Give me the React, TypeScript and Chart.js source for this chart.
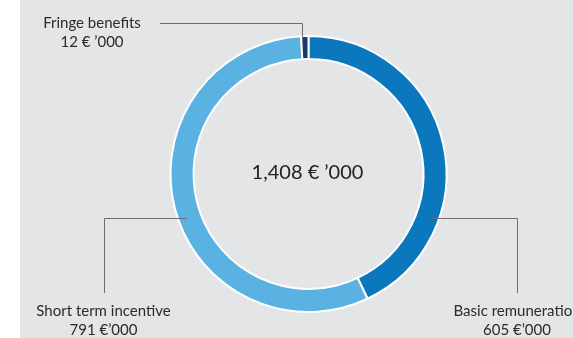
import { useEffect, useRef } from "react";
import { Chart, registerables } from "chart.js";

Chart.register(...registerables);

// ---- data ----
const categories = ["Basic remuneration", "Short term incentive", "Fringe benefits"];
const values = [605, 791, 12];
const unitSuffix = "€’000";
const valueLabels = ["605 €’000", "791 €’000", "12 € ’000"];
const colors = ["#0b78be", "#59b2e2", "#173a6a"];

const total = values.reduce((a, b) => a + b, 0);
const centerLabel = `${total.toLocaleString("en-US")} € ’000`;

const FONT = "Lato, 'Open Sans', sans-serif";

const bgPlugin = {
  id: "bg",
  beforeDraw(chart: any) {
    const { ctx, width, height } = chart;
    ctx.save();
    ctx.fillStyle = "#ffffff";
    ctx.fillRect(0, 0, width, height);
    ctx.fillStyle = "#e4e5e7";
    ctx.fillRect(20, 0, width - 20, height);
    ctx.restore();
  },
};

const annotPlugin = {
  id: "annot",
  afterDatasetsDraw(chart: any) {
    const { ctx } = chart;
    const arc = chart.getDatasetMeta(0).data[0] as any;
    const { x: cx, y: cy, outerRadius, innerRadius } = arc.getProps(
      ["x", "y", "outerRadius", "innerRadius"],
      true
    );
    const rm = (outerRadius + innerRadius) / 2 + 3;
    const dyMid = 44;
    const ringX = Math.sqrt(rm * rm - dyMid * dyMid);
    const px = (v: number) => Math.round(v) + 0.5;

    ctx.save();
    ctx.strokeStyle = "#6e6e6e";
    ctx.lineWidth = 1;

    // Basic remuneration (right)
    ctx.beginPath();
    ctx.moveTo(cx + ringX, px(cy + dyMid));
    ctx.lineTo(px(cx + 208.5), px(cy + dyMid));
    ctx.lineTo(px(cx + 208.5), cy + 119);
    ctx.stroke();

    // Short term incentive (left)
    ctx.beginPath();
    ctx.moveTo(cx - ringX, px(cy + dyMid));
    ctx.lineTo(px(cx - 204.5), px(cy + dyMid));
    ctx.lineTo(px(cx - 204.5), cy + 119);
    ctx.stroke();

    // Fringe benefits (top)
    ctx.beginPath();
    ctx.moveTo(cx - 148.5, px(cy - 151));
    ctx.lineTo(px(cx - 7), px(cy - 151));
    ctx.lineTo(px(cx - 7), cy - outerRadius + 4);
    ctx.stroke();

    ctx.fillStyle = "#2b2b2b";
    ctx.textAlign = "center";
    ctx.textBaseline = "alphabetic";
    ctx.font = `15px ${FONT}`;

    const items = [
      { i: 0, x: cx + 208.5, y1: cy + 142, y2: cy + 161 },
      { i: 1, x: cx - 205, y1: cy + 142, y2: cy + 161 },
      { i: 2, x: cx - 216.5, y1: cy - 146, y2: cy - 127 },
    ];
    for (const it of items) {
      ctx.fillText(categories[it.i], it.x, it.y1);
      ctx.fillText(valueLabels[it.i], it.x, it.y2);
    }

    ctx.font = `20px ${FONT}`;
    ctx.fillStyle = "#222222";
    ctx.fillText(centerLabel, cx - 1, cy + 5);
    ctx.restore();
  },
};

export default function App() {
  const ref = useRef<HTMLCanvasElement | null>(null);

  useEffect(() => {
    document.body.style.margin = "0";
    if (!ref.current) return;
    const chart = new Chart(ref.current, {
      type: "doughnut",
      data: {
        labels: categories,
        datasets: [
          {
            data: values,
            backgroundColor: colors,
            borderColor: "#ffffff",
            borderWidth: 2,
            hoverOffset: 0,
          },
        ],
      },
      options: {
        responsive: false,
        animation: false,
        devicePixelRatio: 1,
        radius: 138,
        cutout: "83.3%",
        rotation: 0,
        layout: { padding: { left: 44, right: 0, top: 10, bottom: 0 } },
        plugins: {
          legend: { display: false },
          tooltip: { enabled: false },
        },
        events: [],
      } as any,
      plugins: [bgPlugin, annotPlugin],
    });
    return () => chart.destroy();
  }, []);

  return (
    <div style={{ position: "absolute", left: 0, top: 0, width: 573, height: 338 }}>
      <canvas ref={ref} width={573} height={338} />
    </div>
  );
}
